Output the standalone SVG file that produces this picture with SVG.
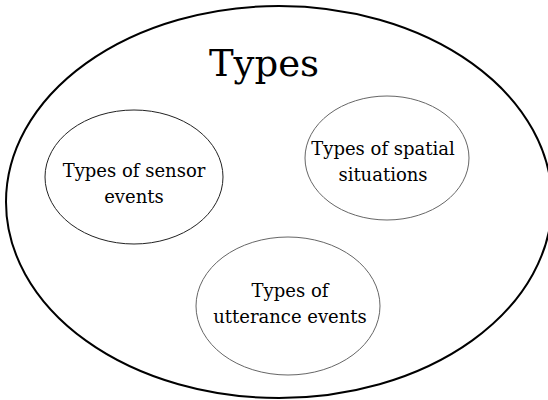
<svg xmlns="http://www.w3.org/2000/svg" width="548" height="400" viewBox="0 0 548 400">
<style>
.outer{fill:none;stroke:#000;stroke-width:2}
.inner{fill:none;stroke:#666;stroke-width:1}
text{font-family:"DejaVu Serif","Liberation Serif",serif;fill:#000;text-anchor:middle}
.lbl{font-size:18px}
.title{font-size:37px}
</style>
<rect width="548" height="400" fill="#fff"/>
<g id="types">
<ellipse class="outer" cx="279" cy="202" rx="273" ry="196"/>
<text class="title" x="264" y="76">Types</text>
</g>
<g id="sensor">
<ellipse class="inner" cx="134" cy="177" rx="89" ry="67" style="stroke:#222"/>
<text class="lbl" x="134" y="177">Types of sensor</text>
<text class="lbl" x="134" y="203">events</text>
</g>
<g id="spatial">
<ellipse class="inner" cx="387" cy="158" rx="82" ry="62"/>
<text class="lbl" x="383" y="155">Types of spatial</text>
<text class="lbl" x="383" y="181">situations</text>
</g>
<g id="utterance">
<ellipse class="inner" cx="288" cy="306" rx="92" ry="69"/>
<text class="lbl" x="290" y="297">Types of</text>
<text class="lbl" x="290" y="323">utterance events</text>
</g>
<g id="connectors"/>
</svg>
